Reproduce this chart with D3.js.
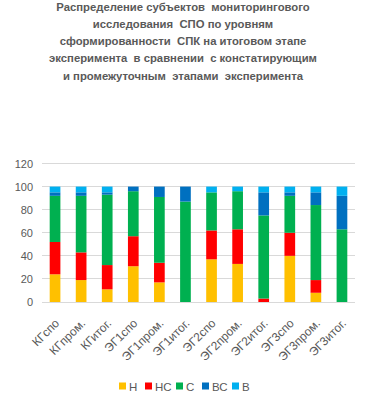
<!DOCTYPE html>
<html><head><meta charset="utf-8">
<script src="https://cdn.jsdelivr.net/npm/d3@7"></script>
<style>body{margin:0;background:#fff}svg{display:block}</style>
</head><body><svg id="c" width="366" height="395"></svg>
<script>
const titleLines = [
  "Распределение субъектов  мониторингового",
  "исследования  СПО по уровням",
  "сформированности  СПК на итоговом этапе",
  "эксперимента  в сравнении  с констатирующим",
  "и промежуточным  этапами  эксперимента"
];
const categories = ["КГспо","КГпром.","КГитог.","ЭГ1спо","ЭГ1пром.","ЭГ1итог.","ЭГ2спо","ЭГ2пром.","ЭГ2итог.","ЭГ3спо","ЭГ3пром.","ЭГ3итог."];
const seriesNames = ["Н","НС","С","ВС","В"];
const seriesColors = ["#FFC000","#FF0000","#00B050","#0070C0","#00B0F0"];
const valH  = [24,19,11,31,17,0,37,33,0,40,8,0];
const valHC = [28,24,21,26,17,0,25,30,3,20,11,0];
const valC  = [40,49,61,39,57,87,33,33,72,32,65,63];
const valBC = [3,3,2,4,9,13,0,0,20,3,11,29];
const valB  = [5,5,5,0,0,0,5,4,5,5,5,8];
const yTicks = [0,20,40,60,80,100,120];

const svg = d3.select("#c");
const font = "Liberation Sans, Arial, sans-serif";
const grey = "#595959";

// title
svg.append("g").selectAll("text").data(titleLines).join("text")
  .attr("x", 183).attr("y", (d,i)=>10.5 + i*17.3)
  .attr("text-anchor","middle").attr("font-family",font).attr("font-weight","bold")
  .attr("font-size",11.3).attr("fill",grey).attr("xml:space","preserve").text(d=>d);

const rows = categories.map((c,i)=>({cat:c, Н:valH[i], НС:valHC[i], С:valC[i], ВС:valBC[i], В:valB[i]}));
const stack = d3.stack().keys(seriesNames)(rows);

const x = d3.scaleBand().domain(categories).range([42,355]).paddingInner(0.59).paddingOuter(0.295);
const y = d3.scaleLinear().domain([0,120]).range([302,163.5]);

// gridlines
svg.append("g").selectAll("line").data(yTicks).join("line")
  .attr("x1",42).attr("x2",355).attr("y1",d=>y(d)).attr("y2",d=>y(d))
  .attr("stroke","#d9d9d9").attr("stroke-width",1).attr("shape-rendering","crispEdges");

// y axis labels
const yAxis = d3.axisLeft(y).tickValues(yTicks).tickSize(0).tickPadding(0);
const ya = svg.append("g").attr("transform","translate(33,0)").call(yAxis);
ya.select(".domain").remove();
ya.selectAll("text").attr("font-family",font).attr("font-size",11).attr("fill",grey);

// bars
svg.append("g").selectAll("g").data(stack).join("g")
  .attr("fill",(d,i)=>seriesColors[i])
  .selectAll("rect").data(d=>d).join("rect")
  .attr("x",d=>x(d.data.cat)).attr("width",x.bandwidth())
  .attr("y",d=>y(d[1])).attr("height",d=>y(d[0])-y(d[1]));

// x labels
const xAxis = d3.axisBottom(x).tickSize(0);
const xa = svg.append("g").attr("transform","translate(0,302)").call(xAxis);
xa.select(".domain").remove();
xa.selectAll("text")
  .attr("font-family",font).attr("font-size",12).attr("fill",grey)
  .attr("text-anchor","end").attr("y",0).attr("dy",0)
  .attr("transform","translate(5,22) rotate(-45)");

// legend
const lg = svg.append("g");
const lx = [119,145,176,202,232];
seriesNames.forEach((s,i)=>{
  lg.append("rect").attr("x",lx[i]).attr("y",382.5).attr("width",7).attr("height",7).attr("fill",seriesColors[i]);
  lg.append("text").attr("x",lx[i]+10).attr("y",390.5).attr("font-family",font).attr("font-size",11.5).attr("fill",grey).text(s);
});
</script></body></html>
